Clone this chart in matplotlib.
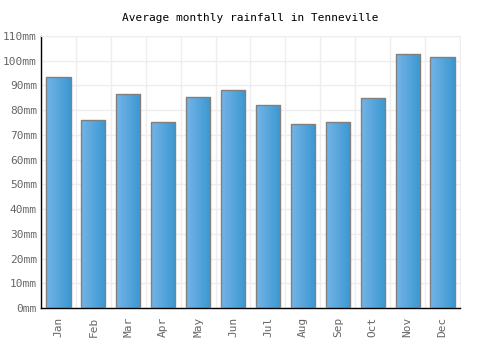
import numpy as np
import matplotlib
matplotlib.use("Agg")
import matplotlib.pyplot as plt
from matplotlib.colors import LinearSegmentedColormap

# dados
months = ["Jan", "Feb", "Mar", "Apr", "May", "Jun", "Jul", "Aug", "Sep", "Oct", "Nov", "Dec"]
rainfall = [93.3, 75.9, 86.4, 75.1, 85.2, 88.0, 82.3, 74.3, 75.1, 84.8, 102.6, 101.4]
yticks = list(range(0, 111, 10))
ytick_labels = [f"{v}mm" for v in yticks]

plt.rcParams["font.family"] = ["DejaVu Sans Mono"]

fig = plt.figure(figsize=(5, 3.5), dpi=100)
ax = fig.add_axes([0.082, 0.12, 0.838, 0.777])

x = np.arange(len(months))
bars = ax.bar(x, rainfall, width=0.69, color="none", edgecolor="#808080", linewidth=1.0, zorder=3)

# gradiente horizontal em cada barra
cmap = LinearSegmentedColormap.from_list("azul", ["#74b4e8", "#3b97d0"])
grad = np.linspace(0, 1, 64).reshape(1, -1)
for b in bars:
    x0, w, h = b.get_x(), b.get_width(), b.get_height()
    im = ax.imshow(grad, cmap=cmap, extent=[x0, x0 + w, 0, h], aspect="auto", zorder=2)
    im.set_clip_path(b)

ax.set_xlim(-0.5, len(months) - 0.5)
ax.set_ylim(0, 110)
ax.set_yticks(yticks)
ax.set_yticklabels(ytick_labels)
ax.set_xticks(x)
ax.set_xticklabels(months, rotation=90)
ax.set_xticks(np.arange(-0.5, len(months), 1), minor=True)

ax.grid(axis="y", color="#eeeeee", linewidth=1, zorder=0)
ax.grid(axis="x", which="minor", color="#eeeeee", linewidth=1, zorder=0)
ax.tick_params(axis="both", which="both", length=0, labelsize=8, labelcolor="#666666")
ax.tick_params(axis="y", pad=3)
ax.tick_params(axis="x", pad=6)

for s in ["top", "right"]:
    ax.spines[s].set_color("#eeeeee")
for s in ["left", "bottom"]:
    ax.spines[s].set_color("black")
    ax.spines[s].set_linewidth(1)

fig.text(0.5, 0.948, "Average monthly rainfall in Tenneville", ha="center", va="center", fontsize=8)

fig.savefig("out.png", dpi=100)
